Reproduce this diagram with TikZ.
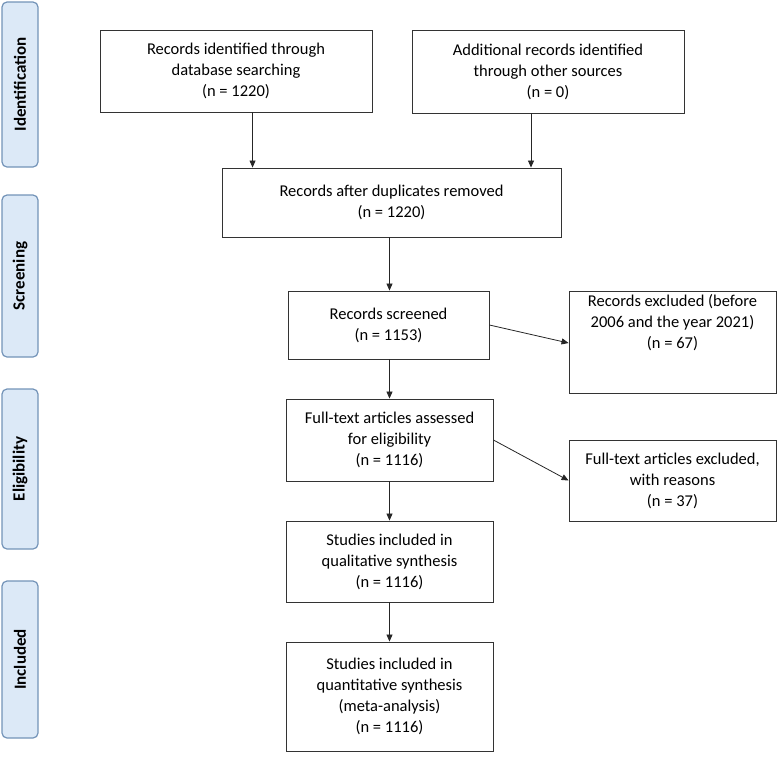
\documentclass[tikz,border=0pt]{standalone}
\usepackage{fontspec}
\setmainfont{Carlito}
\usetikzlibrary{positioning, arrows.meta}
\definecolor{tabfill}{HTML}{DCE9F7}
\definecolor{tabline}{HTML}{7393B8}
\tikzset{
  box/.style={draw=black!80, line width=0.9pt, align=center, font=\fontsize{16.5}{21}\selectfont, inner sep=0pt},
  tab/.style={draw=tabline, fill=tabfill, line width=1.2pt, rounded corners=5pt, rotate=90, font=\bfseries\fontsize{17}{19}\selectfont, inner sep=0pt},
  flow/.style={-{Triangle[length=7pt, width=6pt]}, line width=0.8pt, black!85},
}
\begin{document}
\begin{tikzpicture}[x=1pt, y=-1pt]
  \useasboundingbox (0,0) rectangle (778,764);

  % phase tabs
  \node[tab, minimum width=165pt, minimum height=36pt] (t1) at (20,84.5) {Identification};
  \node[tab, minimum width=162pt, minimum height=36pt] (t2) at (20,276) {Screening};
  \node[tab, minimum width=160pt, minimum height=36pt] (t3) at (20,469) {Eligibility};
  \node[tab, minimum width=157pt, minimum height=36pt] (t4) at (20,659.5) {Included};

  % boxes
  \node[box, minimum width=272pt, minimum height=82pt] (db) at (236,71) {Records identified through\\database searching\\(n = 1220)};
  \node[box, minimum width=272pt, minimum height=83pt] (other) at (548,71.5) {Additional records identified\\through other sources\\(n = 0)};
  \node[box, minimum width=339pt, minimum height=69pt] (dup) at (391.5,202.5) {Records after duplicates removed\\(n = 1220)};
  \node[box, minimum width=201pt, minimum height=68pt] (scr) at (388.5,325) {Records screened\\(n = 1153)};
  \node[box, minimum width=207pt, minimum height=102pt] (excl) at (672.5,342) {Records excluded (before\\2006 and the year 2021)\\(n = 67)\\[21pt]};
  \node[box, minimum width=207pt, minimum height=82pt] (full) at (389.5,440) {Full-text articles assessed\\for eligibility\\(n = 1116)};
  \node[box, minimum width=207pt, minimum height=81pt] (fexcl) at (672.5,480.5) {Full-text articles excluded,\\with reasons\\(n = 37)};
  \node[box, minimum width=207pt, minimum height=81pt] (qual) at (389.5,561.5) {Studies included in\\qualitative synthesis\\(n = 1116)};
  \node[box, minimum width=207pt, minimum height=109pt] (quant) at (389.5,696.5) {Studies included in\\quantitative synthesis\\(meta-analysis)\\(n = 1116)};

  % arrows
  \draw[flow] (db.south -| dup.south west) ++(31,0) coordinate (c1) -- (c1 |- dup.north);
  \draw[flow] (other.south) ++(-17,0) coordinate (c2) -- (c2 |- dup.north);
  \draw[flow] (dup.south -| full.south) -- (full.south |- scr.north);
  \draw[flow] (full.south |- scr.south) -- (full.north);
  \draw[flow] (full) -- (qual);
  \draw[flow] (qual) -- (quant);
  \draw[flow] (scr.east) -- ([yshift=-1pt]excl.west);
  \draw[flow] (full.east) -- (fexcl.west);
\end{tikzpicture}
\end{document}
